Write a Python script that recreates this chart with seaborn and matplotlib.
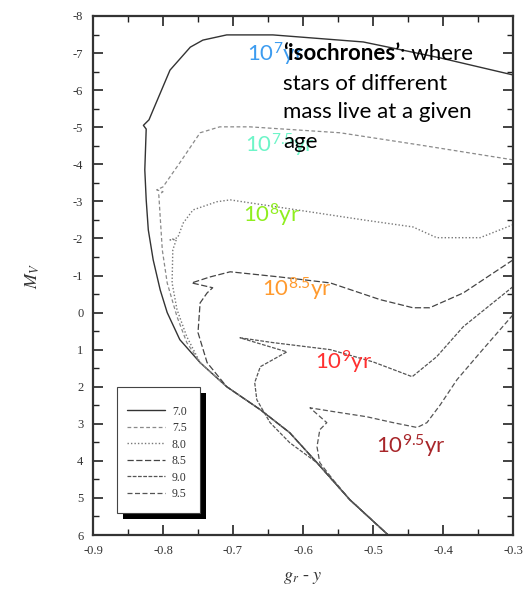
import matplotlib
matplotlib.use("Agg")
import matplotlib.pyplot as plt
import seaborn as sns
import pandas as pd
from matplotlib.patches import Rectangle
from matplotlib.ticker import MultipleLocator, FormatStrFormatter

# ---- data: isochrones (g_r - y colour, absolute magnitude M_V) ----
ages = ["7.0", "7.5", "8.0", "8.5", "9.0", "9.5"]

iso70_x = [-0.300, -0.404, -0.514, -0.643, -0.709, -0.743, -0.761, -0.790, -0.814, -0.820, -0.828,
           -0.824, -0.826, -0.824, -0.821, -0.814, -0.804, -0.794, -0.776, -0.747, -0.709, -0.661,
           -0.619, -0.580, -0.533, -0.476, -0.470]
iso70_y = [-6.41, -6.87, -7.30, -7.49, -7.49, -7.35, -7.16, -6.54, -5.47, -5.20, -5.05,
           -4.95, -3.85, -3.04, -2.23, -1.42, -0.61, 0.00, 0.73, 1.35, 2.00, 2.62,
           3.24, 4.05, 5.05, 6.04, 6.15]

iso75_x = [-0.300, -0.433, -0.547, -0.676, -0.719, -0.747, -0.776, -0.800, -0.809, -0.800, -0.806,
           -0.804, -0.801, -0.794, -0.780, -0.766, -0.747, -0.709, -0.661, -0.619, -0.580, -0.533,
           -0.476, -0.470]
iso75_y = [-4.12, -4.52, -4.85, -5.01, -5.01, -4.85, -4.04, -3.39, -3.31, -3.26, -3.18,
           -2.58, -1.69, -0.80, 0.11, 0.81, 1.35, 2.00, 2.62, 3.24, 4.05, 5.05,
           6.04, 6.15]

iso80_x = [-0.300, -0.347, -0.409, -0.443, -0.514, -0.609, -0.704, -0.723, -0.757, -0.771, -0.779,
           -0.790, -0.781, -0.786, -0.787, -0.780, -0.766, -0.747, -0.709, -0.661, -0.619, -0.580,
           -0.533, -0.476, -0.470]
iso80_y = [-2.37, -2.02, -2.02, -2.31, -2.50, -2.77, -3.04, -2.99, -2.77, -2.42, -2.02,
           -1.96, -1.97, -1.69, -0.80, -0.08, 0.65, 1.35, 2.00, 2.62, 3.24, 4.05,
           5.05, 6.04, 6.15]

iso85_x = [-0.300, -0.371, -0.419, -0.443, -0.490, -0.561, -0.633, -0.704, -0.733, -0.759, -0.729,
           -0.737, -0.747, -0.750, -0.737, -0.709, -0.661, -0.619, -0.580, -0.533, -0.476, -0.470]
iso85_y = [-1.42, -0.53, -0.13, -0.13, -0.35, -0.80, -0.96, -1.10, -0.96, -0.80, -0.67,
           -0.53, -0.26, 0.54, 1.35, 2.00, 2.62, 3.24, 4.05, 5.05, 6.04, 6.15]

iso90_x = [-0.300, -0.371, -0.409, -0.444, -0.500, -0.561, -0.643, -0.690, -0.623, -0.661, -0.669,
           -0.666, -0.647, -0.619, -0.580, -0.533, -0.476, -0.470]
iso90_y = [-0.70, 0.38, 1.19, 1.73, 1.33, 1.00, 0.81, 0.68, 1.06, 1.46, 1.89,
           2.35, 2.97, 3.51, 4.05, 5.05, 6.04, 6.15]

iso95_x = [-0.300, -0.347, -0.380, -0.404, -0.423, -0.437, -0.471, -0.509, -0.557, -0.590, -0.566,
           -0.576, -0.580, -0.576, -0.557, -0.533, -0.476, -0.470]
iso95_y = [0.06, 1.08, 1.81, 2.49, 2.97, 3.10, 2.97, 2.81, 2.67, 2.57, 2.97,
           3.16, 3.62, 4.05, 4.51, 5.05, 6.04, 6.15]

age_labels = [r"10$^{7}$yr", r"10$^{7.5}$yr", r"10$^{8}$yr", r"10$^{8.5}$yr", r"10$^{9}$yr", r"10$^{9.5}$yr"]
age_colors = ["#3d9cf0", "#6ef5c8", "#8fee1e", "#ff9a2e", "#ff3030", "#a8262a"]

x_ticks = [-0.9, -0.8, -0.7, -0.6, -0.5, -0.4, -0.3]
y_ticks = [-8, -7, -6, -5, -4, -3, -2, -1, 0, 1, 2, 3, 4, 5, 6]

# ---- styling ----
sns.set_style("ticks")
plt.rcParams["font.family"] = ["Liberation Serif", "DejaVu Serif"]
plt.rcParams["axes.unicode_minus"] = False
plt.rcParams["mathtext.fontset"] = "custom"
plt.rcParams["mathtext.rm"] = "Lato"
plt.rcParams["mathtext.it"] = "Lato:italic"
plt.rcParams["mathtext.bf"] = "Lato:bold"

line_styles = {
    "7.0": dict(color="#333333", linestyle="-", lw=1.0),
    "7.5": dict(color="#8a8a8a", linestyle=(0, (3, 2)), lw=0.9),
    "8.0": dict(color="#777777", linestyle=(0, (1, 1.5)), lw=1.0),
    "8.5": dict(color="#444444", linestyle=(0, (5, 2)), lw=0.9),
    "9.0": dict(color="#555555", linestyle=(0, (3, 1.2)), lw=0.9),
    "9.5": dict(color="#555555", linestyle=(0, (4, 2)), lw=0.9),
}

fig = plt.figure(figsize=(5.27, 5.89), dpi=100)
ax = fig.add_axes([93 / 527, 54 / 589, 420 / 527, 519 / 589])

series = [(iso70_x, iso70_y), (iso75_x, iso75_y), (iso80_x, iso80_y),
          (iso85_x, iso85_y), (iso90_x, iso90_y), (iso95_x, iso95_y)]
for age, (xs, ys) in zip(ages, series):
    df = pd.DataFrame({"g_y": xs, "Mv": ys})
    sns.lineplot(data=df, x="g_y", y="Mv", sort=False, estimator=None, ax=ax,
                 label=age, **line_styles[age])

ax.set_xlim(-0.9, -0.3)
ax.set_ylim(6, -8)
ax.set_xticks(x_ticks)
ax.set_yticks(y_ticks)
ax.xaxis.set_major_formatter(FormatStrFormatter("%.1f"))
ax.xaxis.set_minor_locator(MultipleLocator(0.05))
ax.yaxis.set_minor_locator(MultipleLocator(0.5))
ax.tick_params(which="both", direction="in", top=True, right=True, colors="#222222",
               labelcolor="#333333", labelsize=9)
ax.tick_params(which="major", length=7, width=1.2, pad=7)
ax.tick_params(which="minor", length=4, width=1.0)
for s in ax.spines.values():
    s.set_linewidth(1.6)
    s.set_color("#333333")

ax.set_xlabel(r"$g_r$ - $y$", fontsize=13, math_fontfamily="stix", color="#333333", labelpad=9)
ax.set_ylabel(r"$M_V$", fontsize=13, math_fontfamily="stix", color="#333333", labelpad=22)

# legend (content), with its own frame and drop shadow
handles, labels = ax.get_legend_handles_labels()
leg = ax.legend(handles, labels, loc="lower left", bbox_to_anchor=(127 / 527, (589 - 500) / 589),
                bbox_transform=fig.transFigure, borderaxespad=0, borderpad=0, fontsize=8.5,
                frameon=False, handlelength=3.2, handletextpad=0.6, labelspacing=0.38,
                labelcolor="#333333")
leg.set_zorder(6)
box_x, box_y, box_w, box_h = 117 / 527, (589 - 513) / 589, 83 / 527, 126 / 589
ax.add_patch(Rectangle((box_x, box_y), box_w, box_h, transform=fig.transFigure, facecolor="white",
                       edgecolor="#444444", lw=0.8, zorder=5.8, clip_on=False))
ax.add_patch(Rectangle((box_x + 6 / 527, box_y - 6 / 589), box_w, box_h, transform=fig.transFigure,
                       facecolor="black", edgecolor="none", zorder=5.5, clip_on=False))

# colored age labels
label_pos = [(-0.680, -6.76), (-0.683, -4.33), (-0.686, -2.42), (-0.659, -0.43), (-0.583, 1.54), (-0.496, 3.81)]
for (tx, ty), txt, col in zip(label_pos, age_labels, age_colors):
    ax.text(tx, ty, txt, color=col, fontsize=16, fontfamily="Lato", ha="left", va="baseline", zorder=7)

# explanation text
kw = dict(fontfamily="Lato", fontsize=16, color="black", ha="left", va="baseline", zorder=10)
t1 = fig.text(283 / 527, 1 - 60 / 589, "\u2018isochrones\u2019", fontweight="bold", **kw)
ax.annotate(": where", xy=(1, 0), xycoords=t1, fontfamily="Lato", fontsize=16, color="black",
            ha="left", va="bottom", zorder=10, annotation_clip=False)
fig.text(283 / 527, 1 - 90 / 589, "stars of different", **kw)
fig.text(283 / 527, 1 - 118 / 589, "mass live at a given", **kw)
fig.text(283 / 527, 1 - 148 / 589, "age", **kw)

fig.savefig("out.png", dpi=100)
